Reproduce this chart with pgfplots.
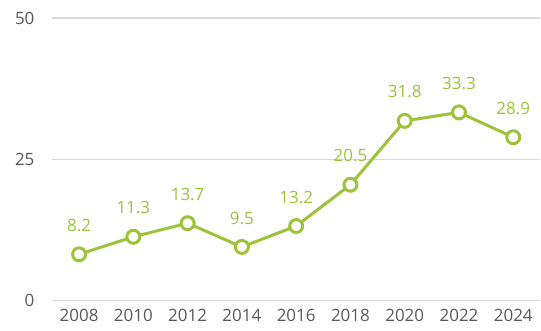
\documentclass[border=0pt]{standalone}
\usepackage{pgfplots}
\pgfplotsset{compat=1.18}
\usepackage{fontspec}
\setmainfont{Open Sans}
\definecolor{lgreen}{HTML}{9DC33B}
\definecolor{tickgray}{HTML}{595959}
\definecolor{gridgray}{HTML}{D9D9D9}
\begin{document}
\begin{tikzpicture}[x=1pt,y=1pt]
\begin{axis}[
    scale only axis,
    width=489pt, height=283pt,
    xmin=2007, xmax=2025,
    ymin=0, ymax=50,
    xtick={2008,2010,...,2024},
    ytick={0,25,50},
    axis x line=bottom,
    axis y line=left,
    x axis line style={-, gridgray, line width=1.2pt},
    y axis line style={draw=none},
    ymajorgrids,
    grid style={gridgray, line width=1.2pt},
    major tick length=0pt,
    /pgf/number format/1000 sep={},
    /pgf/number format/assume math mode=true,
    tick label style={font=\fontsize{17}{19}\selectfont, text=tickgray},
    xticklabel style={yshift=-5pt},
    yticklabel style={anchor=east, xshift=-14pt},
    nodes near coords,
    every node near coord/.append style={font=\fontsize{17}{19}\selectfont, text=lgreen, anchor=center, yshift=29pt},
    nodes near coords style={/pgf/number format/.cd, fixed, fixed zerofill, precision=1},
    clip=false,
]
\addplot[lgreen, line width=3pt, mark=*, mark size=6.5pt,
         mark options={fill=white, draw=lgreen, line width=3pt}]
coordinates {
    (2008,8.2) (2010,11.3) (2012,13.7) (2014,9.5) (2016,13.2)
    (2018,20.5) (2020,31.8) (2022,33.3) (2024,28.9)
};
\end{axis}
\useasboundingbox (-52,-30) rectangle (489,301);
\end{tikzpicture}
\end{document}
